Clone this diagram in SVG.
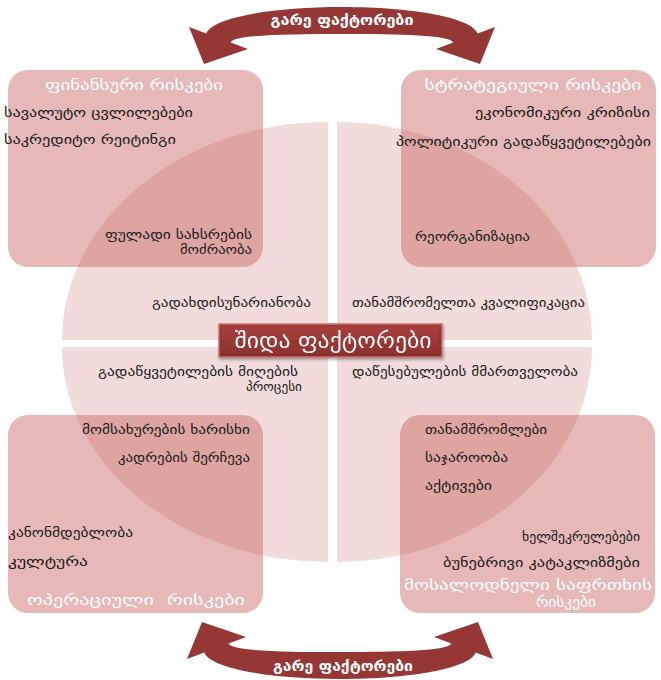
<svg xmlns="http://www.w3.org/2000/svg" width="661" height="680" viewBox="0 0 661 680">
  <style>
    .quad { fill: #f2dcdb; }
    .box { fill: #c0504d; fill-opacity: 0.4; }
    .item { font-family: "DejaVu Sans", sans-serif; font-size: 13px; fill: #1a1a1a; }
    .title { font-family: "DejaVu Sans", sans-serif; font-size: 15px; fill: #ffffff; text-anchor: middle; }
    .arrow { fill: #953735; }
    .arrow-label { font-family: "DejaVu Sans", sans-serif; font-size: 14px; font-weight: bold; fill: #ffffff; text-anchor: middle; }
    .end { text-anchor: end; }
  </style>
  <defs>
    <linearGradient id="core-fill" x1="0" y1="0" x2="0" y2="1">
      <stop offset="0" stop-color="#a9423f"/>
      <stop offset="1" stop-color="#8c302e"/>
    </linearGradient>
    <filter id="soft-shadow" x="-10%" y="-30%" width="120%" height="160%">
      <feDropShadow dx="1" dy="2" stdDeviation="1.5" flood-color="#000" flood-opacity="0.35"/>
    </filter>
    <!-- double-headed arc arrow, heads bent downward -->
    <path id="arc-arrow" d="M189,27 L206.3,33.5 C212,18 270,7 342,7 C414,7 472,18 477.7,33.5 L495,27 L480,64 L436,49 L453.3,42.5 C450.5,35 400,34 342,34 C284,34 233.5,35 230.7,42.5 L248,49 L204,64 Z"/>
  </defs>

  <rect width="661" height="680" fill="#ffffff"/>

  <!-- background pie split into four quarters -->
  <g id="pie">
    <path class="quad" d="M328,340 L62,340 A266,218 0 0 1 328,122 Z"/>
    <path class="quad" d="M337,340 L337,122 A255,218 0 0 1 592,340 Z"/>
    <path class="quad" d="M328,347 L328,562 A266,215 0 0 1 62,347 Z"/>
    <path class="quad" d="M337,347 L592,347 A255,215 0 0 1 337,562 Z"/>
  </g>

  <!-- external factor arrows -->
  <g id="connectors">
    <g id="arrow-top">
      <use href="#arc-arrow" class="arrow"/>
      <text class="arrow-label" x="342" y="25" textLength="143" lengthAdjust="spacingAndGlyphs">გარე ფაქტორები</text>
    </g>
    <g id="arrow-bottom">
      <use href="#arc-arrow" class="arrow" transform="matrix(1,0,0,-1,-2,686)"/>
      <text class="arrow-label" x="343" y="671" textLength="140" lengthAdjust="spacingAndGlyphs">გარე ფაქტორები</text>
    </g>
  </g>

  <!-- financial risks -->
  <g id="financial">
    <rect class="box" x="8" y="70" width="255" height="197" rx="20"/>
    <text class="title" x="134" y="90" textLength="178" lengthAdjust="spacingAndGlyphs">ფინანსური რისკები</text>
    <text class="item" x="4" y="117" textLength="189" lengthAdjust="spacingAndGlyphs">სავალუტო ცვლილებები</text>
    <text class="item" x="4" y="144" textLength="172" lengthAdjust="spacingAndGlyphs">საკრედიტო რეიტინგი</text>
    <text class="item end" x="252" y="239" textLength="147" lengthAdjust="spacingAndGlyphs">ფულადი სახსრების</text>
    <text class="item end" x="252" y="254" textLength="72" lengthAdjust="spacingAndGlyphs">მოძრაობა</text>
  </g>

  <!-- strategic risks -->
  <g id="strategic">
    <rect class="box" x="401" y="70" width="255" height="197" rx="20"/>
    <text class="title" x="533" y="90" textLength="217" lengthAdjust="spacingAndGlyphs">სტრატეგიული რისკები</text>
    <text class="item end" x="650" y="117" textLength="175" lengthAdjust="spacingAndGlyphs">ეკონომიკური კრიზისი</text>
    <text class="item end" x="651" y="146" textLength="255" lengthAdjust="spacingAndGlyphs">პოლიტიკური გადაწყვეტილებები</text>
    <text class="item" x="415" y="241" textLength="115" lengthAdjust="spacingAndGlyphs">რეორგანიზაცია</text>
  </g>

  <!-- operational risks -->
  <g id="operational">
    <rect class="box" x="8" y="415" width="255" height="198" rx="20"/>
    <text class="item end" x="250" y="434" textLength="168" lengthAdjust="spacingAndGlyphs">მომსახურების ხარისხი</text>
    <text class="item end" x="250" y="462" textLength="132" lengthAdjust="spacingAndGlyphs">კადრების შერჩევა</text>
    <text class="item" x="8" y="537" textLength="125" lengthAdjust="spacingAndGlyphs">კანონმდებლობა</text>
    <text class="item" x="8" y="566" textLength="80" lengthAdjust="spacingAndGlyphs">კულტურა</text>
    <text class="title" x="136" y="605" textLength="218" lengthAdjust="spacingAndGlyphs" xml:space="preserve">ოპერაციული  რისკები</text>
  </g>

  <!-- hazard risks -->
  <g id="hazard">
    <rect class="box" x="400" y="415" width="255" height="198" rx="20"/>
    <text class="item" x="425" y="434" textLength="122" lengthAdjust="spacingAndGlyphs">თანამშრომლები</text>
    <text class="item" x="425" y="462" textLength="83" lengthAdjust="spacingAndGlyphs">საჯაროობა</text>
    <text class="item" x="425" y="490" textLength="67" lengthAdjust="spacingAndGlyphs">აქტივები</text>
    <text class="item end" x="640" y="541" textLength="118" lengthAdjust="spacingAndGlyphs">ხელშეკრულებები</text>
    <text class="item end" x="640" y="567" textLength="197" lengthAdjust="spacingAndGlyphs">ბუნებრივი კატაკლიზმები</text>
    <text class="title" x="528" y="590" font-size="14" style="font-size:14px" textLength="248" lengthAdjust="spacingAndGlyphs">მოსალოდნელი საფრთხის</text>
    <text class="title" x="566" y="607" style="font-size:14px" textLength="60" lengthAdjust="spacingAndGlyphs">რისკები</text>
  </g>

  <!-- internal factors inside the pie -->
  <g id="internal-items">
    <text class="item end" x="311" y="307" textLength="159" lengthAdjust="spacingAndGlyphs">გადახდისუნარიანობა</text>
    <text class="item" x="352" y="307" textLength="233" lengthAdjust="spacingAndGlyphs">თანამშრომელთა კვალიფიკაცია</text>
    <text class="item end" x="298" y="376" textLength="200" lengthAdjust="spacingAndGlyphs">გადაწყვეტილების მიღების</text>
    <text class="item end" x="302" y="391" textLength="56" lengthAdjust="spacingAndGlyphs">პროცესი</text>
    <text class="item" x="352" y="376" textLength="226" lengthAdjust="spacingAndGlyphs">დაწესებულების მმართველობა</text>
  </g>

  <!-- internal factors label -->
  <g id="internal-core" filter="url(#soft-shadow)">
    <rect x="219" y="324" width="223" height="33" fill="url(#core-fill)" stroke="#c87270" stroke-width="1.5"/>
    <rect x="221" y="326" width="219" height="29" fill="none" stroke="#7a2624" stroke-width="1" stroke-opacity="0.5"/>
    <text x="333" y="348" font-family="DejaVu Sans, sans-serif" font-size="21" fill="#ffffff" text-anchor="middle" textLength="197" lengthAdjust="spacingAndGlyphs">შიდა ფაქტორები</text>
  </g>
</svg>
